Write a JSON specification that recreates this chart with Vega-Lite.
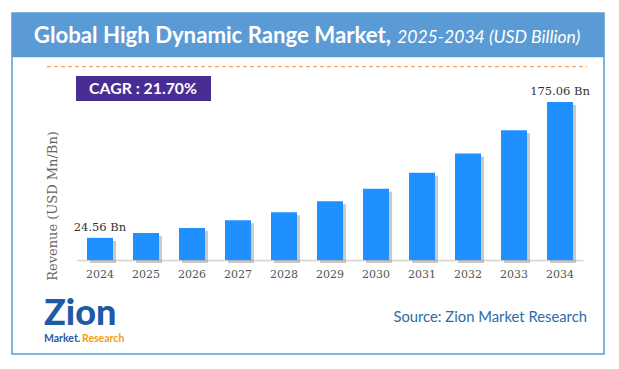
{
  "$schema": "https://vega.github.io/schema/vega-lite/v6.json",
  "autosize": "none",
  "width": 506,
  "height": 194,
  "padding": {"left": 77, "top": 66, "right": 36, "bottom": 109},
  "background": "white",
  "config": {"view": {"stroke": null}},
  "data": {"values": [
    {"year": "2024", "value": 24.56, "label": "24.56 Bn"},
    {"year": "2025", "value": 29.9, "label": ""},
    {"year": "2026", "value": 35.5, "label": ""},
    {"year": "2027", "value": 44.0, "label": ""},
    {"year": "2028", "value": 53.0, "label": ""},
    {"year": "2029", "value": 65.0, "label": ""},
    {"year": "2030", "value": 79.0, "label": ""},
    {"year": "2031", "value": 96.6, "label": ""},
    {"year": "2032", "value": 118.0, "label": ""},
    {"year": "2033", "value": 143.7, "label": ""},
    {"year": "2034", "value": 175.06, "label": "175.06 Bn"}
  ]},
  "layer": [
    {
      "data": {"values": [{}]},
      "mark": {"type": "rect", "fill": null, "stroke": "#5B9BD5", "strokeWidth": 1.5, "clip": false},
      "encoding": {"x": {"value": -65}, "x2": {"value": 527}, "y": {"value": -53}, "y2": {"value": 288}}
    },
    {
      "data": {"values": [{}]},
      "mark": {"type": "rect", "fill": "#5B9BD5", "clip": false},
      "encoding": {"x": {"value": -65}, "x2": {"value": 527}, "y": {"value": -53}, "y2": {"value": -8.7}}
    },
    {
      "data": {"values": [{"t": "Global High Dynamic Range Market,"}]},
      "mark": {"type": "text", "align": "right", "baseline": "alphabetic", "font": "Lato", "fontWeight": "bold", "fontSize": 22.2, "color": "white"},
      "encoding": {"text": {"field": "t"}, "x": {"value": 314}, "y": {"value": -23}}
    },
    {
      "data": {"values": [{"t": "2025-2034 (USD Billion)"}]},
      "mark": {"type": "text", "align": "left", "baseline": "alphabetic", "font": "Lato", "fontStyle": "italic", "fontSize": 17.6, "color": "white"},
      "encoding": {"text": {"field": "t"}, "x": {"value": 320}, "y": {"value": -23}}
    },
    {
      "data": {"values": [{}]},
      "mark": {"type": "rule", "stroke": "#F4A261", "strokeWidth": 1.3, "strokeDash": [4, 3], "clip": false},
      "encoding": {"x": {"value": -30}, "x2": {"value": 510}, "y": {"value": 0.7}}
    },
    {
      "data": {"values": [{}]},
      "mark": {"type": "rect", "fill": "#4A2D93", "clip": false},
      "encoding": {"x": {"value": -1}, "x2": {"value": 134}, "y": {"value": 10}, "y2": {"value": 35}}
    },
    {
      "data": {"values": [{"t": "CAGR : 21.70%"}]},
      "mark": {"type": "text", "align": "center", "baseline": "alphabetic", "font": "Lato", "fontWeight": "bold", "fontSize": 15.8, "color": "white"},
      "encoding": {"text": {"field": "t"}, "x": {"value": 66}, "y": {"value": 28}}
    },
    {
      "mark": {"type": "bar", "color": "#8a8a8a", "opacity": 0.45, "xOffset": 3, "yOffset": 3},
      "encoding": {
        "x": {"field": "year", "type": "ordinal", "sort": null,
              "scale": {"paddingInner": 0.435, "paddingOuter": 0.217},
              "axis": {"title": null, "labelAngle": 0, "ticks": false, "domain": true, "domainColor": "#D3D3D3", "domainWidth": 1.5,
                       "labelFont": "DejaVu Serif", "labelFontSize": 11, "labelColor": "#555555", "labelPadding": 8, "grid": false}},
        "y": {"field": "value", "type": "quantitative", "scale": {"domain": [0, 215], "nice": false},
              "axis": {"title": "Revenue (USD Mn/Bn)", "labels": false, "ticks": false, "domain": false, "grid": false,
                       "titleFont": "DejaVu Serif", "titleFontSize": 13, "titleFontWeight": "normal", "titleColor": "#666666",
                       "titleAngle": 270, "titleAlign": "center", "titleBaseline": "middle", "titleX": -24.5, "titleY": 139.5}}
      }
    },
    {
      "mark": {"type": "bar", "color": "#1E90FF"},
      "encoding": {
        "x": {"field": "year", "type": "ordinal", "sort": null},
        "y": {"field": "value", "type": "quantitative"}
      }
    },
    {
      "mark": {"type": "text", "baseline": "bottom", "dy": -5, "font": "DejaVu Serif", "fontSize": 11.5, "color": "#333333"},
      "encoding": {
        "x": {"field": "year", "type": "ordinal", "sort": null},
        "y": {"field": "value", "type": "quantitative"},
        "text": {"field": "label"}
      }
    },
    {
      "data": {"values": [{"t": "Zion"}]},
      "mark": {"type": "text", "align": "left", "baseline": "alphabetic", "font": "Lato", "fontWeight": 900, "fontSize": 36, "color": "#1F5AA6", "clip": false},
      "encoding": {"text": {"field": "t"}, "x": {"value": -33}, "y": {"value": 258.5}}
    },
    {
      "data": {"values": [{"t": "Market."}]},
      "mark": {"type": "text", "align": "left", "baseline": "alphabetic", "font": "Lato", "fontWeight": "bold", "fontSize": 10.5, "color": "#1F5AA6"},
      "encoding": {"text": {"field": "t"}, "x": {"value": -33}, "y": {"value": 275.5}}
    },
    {
      "data": {"values": [{"t": "Research"}]},
      "mark": {"type": "text", "align": "left", "baseline": "alphabetic", "font": "Lato", "fontWeight": "bold", "fontSize": 10.5, "color": "#F39C12"},
      "encoding": {"text": {"field": "t"}, "x": {"value": 5}, "y": {"value": 275.5}}
    },
    {
      "data": {"values": [{"t": "Source: Zion Market Research"}]},
      "mark": {"type": "text", "align": "right", "baseline": "alphabetic", "font": "Lato", "fontSize": 14.8, "color": "#2E6BA8"},
      "encoding": {"text": {"field": "t"}, "x": {"value": 510}, "y": {"value": 256}}
    }
  ]
}
